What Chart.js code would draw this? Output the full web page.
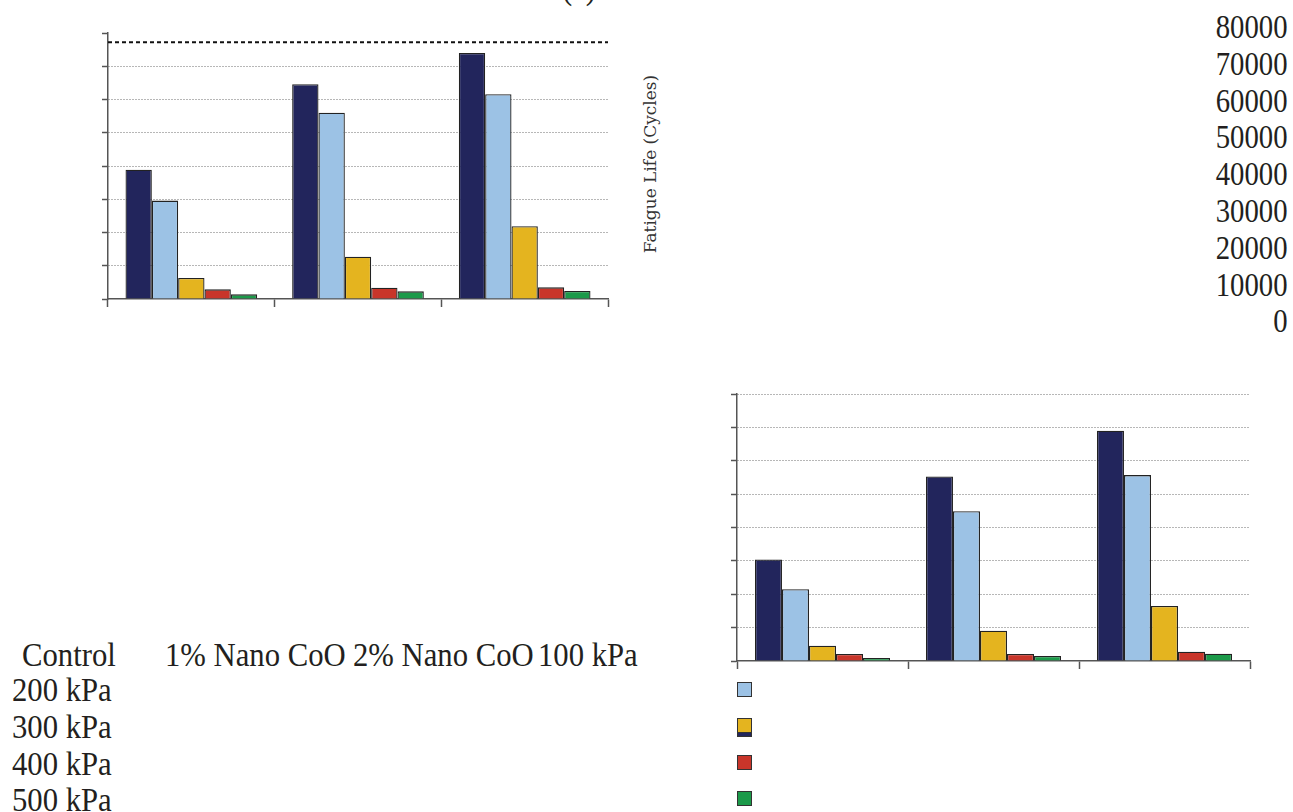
<!DOCTYPE html>
<html>
<head>
<meta charset="utf-8">
<script src="https://cdn.jsdelivr.net/npm/chart.js@4.4.1/dist/chart.umd.min.js"></script>
<style>
    body {
        margin: 0;
        width: 1293px;
        height: 812px;
        background: #fff;
        position: relative;
        overflow: hidden;
        font-family: "Liberation Serif", "Times New Roman", serif;
        color: #231f20;
    }
    .abs { position: absolute; }
    .big {
        font-size: 33px;
        line-height: 36px;
        white-space: nowrap;
        transform: scaleX(0.93);
        transform-origin: left center;
    }
    #yTitle {
        left: 650px;
        top: 164px;
        font-family: "DejaVu Serif", serif;
        font-size: 17px;
        color: #333;
        white-space: nowrap;
        transform: translate(-50%, -50%) rotate(-90deg);
    }
    .swatch {
        width: 13px;
        height: 13px;
        border: 1px solid #333;
    }
</style>
</head>
<body>

<canvas id="topChart" class="abs"></canvas>
<canvas id="bottomChart" class="abs"></canvas>
<div id="yTitle" class="abs">Fatigue Life (Cycles)</div>
<div id="panelTag" class="abs big" style="left:562px; top:-30px;">(a)</div>
<div id="texts"></div>

<script>
// categories and series
const groups = ['Control', '1% Nano CoO', '2% Nano CoO'];
const pressures = ['100 kPa', '200 kPa', '300 kPa', '400 kPa', '500 kPa'];
const barColors = ['#22255c', '#9cc2e5', '#e4b41f', '#c8352a', '#1c9a4a'];
const yTickLabels = ['80000', '70000', '60000', '50000', '40000', '30000', '20000', '10000', '0'];

// upper chart
const top100 = [38900, 64600, 74000];
const top200 = [29600, 56000, 61600];
const top300 = [6300, 12700, 21900];
const top400 = [2900, 3400, 3500];
const top500 = [1400, 2300, 2400];
const topRefLine = 77200;

// lower chart
const bot100 = [30400, 55300, 69000];
const bot200 = [21500, 44900, 55700];
const bot300 = [4600, 9100, 16500];
const bot400 = [2100, 2100, 2800];
const bot500 = [900, 1500, 2200];

const yMax = 80000;
const yStep = 10000;

// dashed reference line across the plot
const refLinePlugin = {
    id: 'refLine',
    afterDatasetsDraw(chart, args, opts) {
        if (opts.value == null) return;
        const ctx = chart.ctx;
        const area = chart.chartArea;
        const y = chart.scales.y.getPixelForValue(opts.value);
        ctx.save();
        ctx.strokeStyle = '#111';
        ctx.lineWidth = 2;
        ctx.setLineDash([4, 3]);
        ctx.beginPath();
        ctx.moveTo(area.left, y);
        ctx.lineTo(area.right, y);
        ctx.stroke();
        ctx.restore();
    }
};

function placeCanvas(id, left, top, width, height) {
    const c = document.getElementById(id);
    c.width = width;
    c.height = height;
    c.style.left = left + 'px';
    c.style.top = top + 'px';
    c.style.width = width + 'px';
    c.style.height = height + 'px';
    return c;
}

function generateGroupedBar(canvas, series, refValue, hideTopGrid) {
    const chartData = {
        labels: groups,
        datasets: series.map((values, i) => ({
            label: pressures[i],
            data: values,
            backgroundColor: barColors[i],
            borderColor: '#222',
            borderWidth: 1.3,
            categoryPercentage: 0.79,
            barPercentage: 1.0
        }))
    };

    const config = {
        type: 'bar',
        data: chartData,
        options: {
            responsive: false,
            animation: false,
            layout: { padding: 4 },
            plugins: {
                legend: { display: false },
                tooltip: { enabled: false },
                refLine: { value: refValue }
            },
            scales: {
                x: {
                    offset: true,
                    ticks: { display: false },
                    grid: {
                        offset: true,
                        drawOnChartArea: false,
                        drawTicks: true,
                        tickLength: 8,
                        tickColor: '#555',
                        tickWidth: 1.5
                    },
                    border: { color: '#555', width: 1.5 }
                },
                y: {
                    min: 0,
                    max: yMax,
                    ticks: { display: false, stepSize: yStep },
                    grid: {
                        color: function(c) {
                            if (c.tick.value === 0) return 'rgba(0,0,0,0)';
                            if (hideTopGrid && c.tick.value === yMax) return 'rgba(0,0,0,0)';
                            return '#6e6e6e';
                        },
                        lineWidth: 1,
                        drawTicks: true,
                        tickLength: 6,
                        tickColor: '#555',
                        tickWidth: 1.5
                    },
                    border: { color: '#555', width: 1.5, dash: [1, 2] }
                }
            }
        },
        plugins: [refLinePlugin]
    };

    return new Chart(canvas, config);
}

generateGroupedBar(
    placeCanvas('topChart', 98, 29, 514, 282),
    [top100, top200, top300, top400, top500],
    topRefLine,
    true
);

generateGroupedBar(
    placeCanvas('bottomChart', 727, 390, 527, 283),
    [bot100, bot200, bot300, bot400, bot500],
    null,
    false
);

// loose texts left over from the figure
const texts = document.getElementById('texts');
function addText(str, left, centerY, origin) {
    const d = document.createElement('div');
    d.className = 'abs big';
    d.textContent = str;
    d.style.top = (centerY - 18) + 'px';
    if (origin === 'right') {
        d.style.right = left + 'px';
        d.style.transformOrigin = 'right center';
        d.style.transform = 'scaleX(0.87)';
    } else {
        d.style.left = left + 'px';
    }
    texts.appendChild(d);
}

yTickLabels.forEach((t, i) => addText(t, 6, 27 + i * 36.8, 'right'));

const groupX = [22, 165, 353];
groups.forEach((g, i) => addText(g, groupX[i], 655));
addText(pressures[0], 538, 655);
pressures.slice(1).forEach((p, i) => addText(p, 12, 690 + i * 36.8));

// legend swatches under the lower chart
const swatchTop = [722, 682, 718, 755, 791];
barColors.forEach((col, i) => {
    const s = document.createElement('div');
    s.className = 'abs swatch';
    s.style.left = '737px';
    s.style.top = swatchTop[i] + 'px';
    s.style.background = col;
    texts.appendChild(s);
});
</script>
</body>
</html>
